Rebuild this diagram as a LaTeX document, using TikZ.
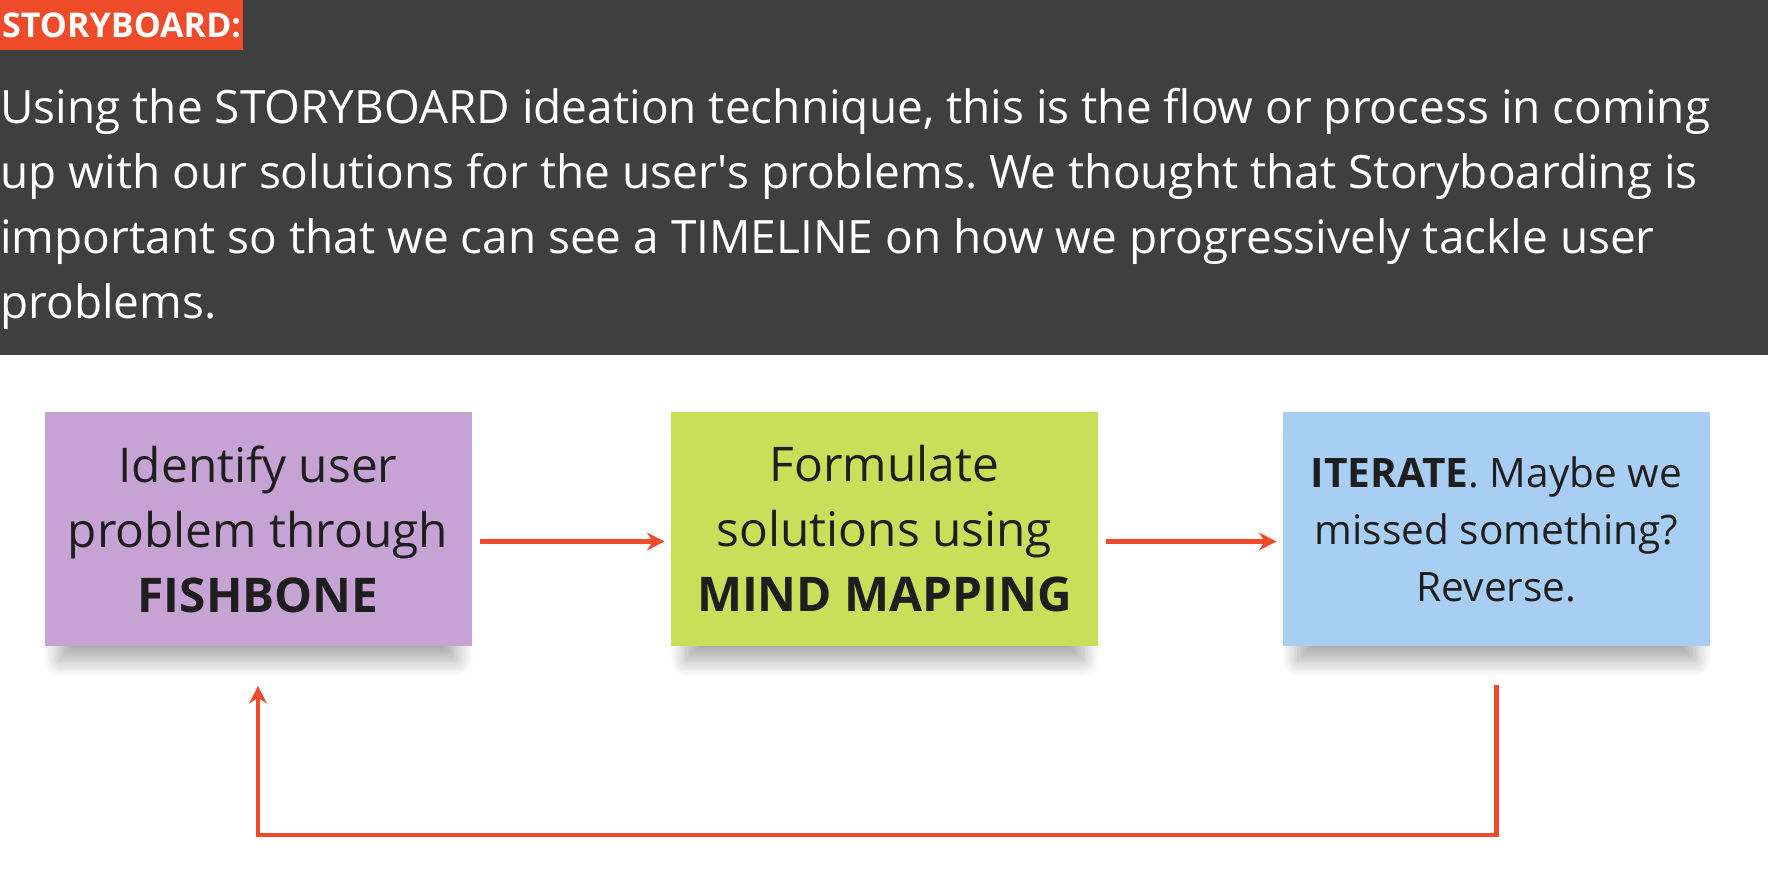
\documentclass[tikz,border=0pt]{standalone}
\usepackage{fontspec}
\setmainfont{Open Sans}
\usetikzlibrary{arrows.meta,shadows.blur}
\definecolor{boardgrey}{HTML}{3F3F3F}
\definecolor{boardorange}{HTML}{EE4B2B}
\definecolor{notepurple}{HTML}{C6A3D4}
\definecolor{notegreen}{HTML}{CADF59}
\definecolor{noteblue}{HTML}{A9CEF4}
\definecolor{noteink}{HTML}{1E1E1E}
\frenchspacing

\begin{document}
\begin{tikzpicture}[
	note/.style={minimum width=8.54cm, minimum height=4.66cm, align=center, inner sep=0pt,
		text=noteink, font=\fontsize{27.2}{37}\selectfont,
		blur shadow={shadow xshift=0pt, shadow yshift=-14pt, shadow scale=0.93,
			shadow opacity=35, shadow blur radius=10pt, shadow blur steps=14}},
	flow/.style={draw=boardorange, line width=2.3pt, -{Stealth[length=10pt,width=10pt]}}
]
%sizes taken from the 1768x883 screen shot, 50px = 1cm
%\draw [help lines] (0,0) grid (36,18);
\useasboundingbox (0,0) rectangle (35.36,17.66);

%header
\fill [boardgrey] (0,17.66) rectangle (35.36,10.56);
\node [anchor=north west, fill=boardorange, text=white, minimum height=1cm, inner xsep=1pt, inner ysep=0pt,
	font=\bfseries\fontsize{19.4}{19.4}\selectfont] (tag) at (0,17.66) {STORYBOARD:};
\node [anchor=north west, inner sep=0pt, text=white, align=left, font=\fontsize{26.15}{37}\selectfont] (intro) at (0,15.9)
	{Using the STORYBOARD ideation technique, this is the flow or process in coming\\
	up with our solutions for the user\textquotesingle s problems. We thought that Storyboarding is\\
	important so that we can see a TIMELINE on how we progressively tackle user\\
	problems.};

%sticky notes
\node [note, fill=notepurple] (b1) at (5.16,7.08) {Identify user\\problem through\\\textbf{FISHBONE}};
\node [note, fill=notegreen] (b2) at (17.69,7.08) {Formulate\\solutions using\\\textbf{MIND MAPPING}};
\node [note, fill=noteblue, font=\fontsize{23.1}{32.4}\selectfont] (b3) at (29.93,7.08)
	{\textbf{ITERATE}. Maybe we\\missed something?\\Reverse.};

\foreach \m/\n in {b1/b2,b2/b3}
	\draw [flow, shorten <=0.16cm, shorten >=0.12cm] ([yshift=-0.25cm]\m.east) -- ([yshift=-0.25cm]\n.west);
\draw [flow, shorten <=0.78cm, shorten >=0.8cm] (b3.south) -- ++(0,-3.78) -| (b1.south);

\end{tikzpicture}
\end{document}
